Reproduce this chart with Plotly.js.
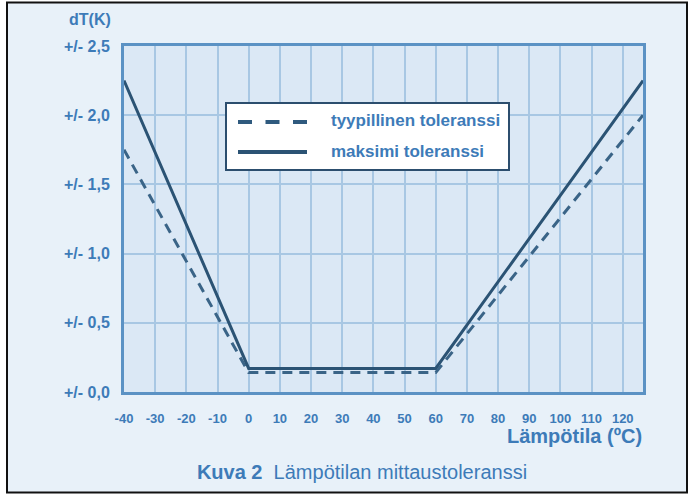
<!DOCTYPE html>
<html>
<head>
<meta charset="utf-8">
<script src="https://cdn.plot.ly/plotly-3.0.1.min.js"></script>
<style>html,body{margin:0;padding:0;background:#fff;}</style>
</head>
<body>
<div id="chart" style="width:694px;height:494px;"></div>
<script>
// ---- data ----
const tempTyp = [-40, 0, 60, 126.5];
const tolTyp  = [1.75, 0.14, 0.14, 2.0];
const tempMax = [-40, 0, 60, 126.5];
const tolMax  = [2.25, 0.17, 0.17, 2.25];
const xTicks = [-40, -30, -20, -10, 0, 10, 20, 30, 40, 50, 60, 70, 80, 90, 100, 110, 120];
const xTickText = ['-40', '-30', '-20', '-10', '0', '10', '20', '30', '40', '50', '60', '70', '80', '90', '100', '110', '120'];
const yTicks = [0, 0.5, 1.0, 1.5, 2.0, 2.5];
const yTickText = ['+/- 0,0', '+/- 0,5', '+/- 1,0', '+/- 1,5', '+/- 2,0', '+/- 2,5'];
const seriesNames = ['tyypillinen toleranssi', 'maksimi toleranssi'];

// ---- layout helpers (pixel -> paper) ----
const L = 124, R = 51, T = 46, B = 102, W = 694, H = 494;
const PW = W - L - R, PH = H - T - B;
const px = X => (X - L) / PW;
const py = Y => (H - B - Y) / PH;

const FONT = '"Liberation Sans", Arial, sans-serif';
const TXT = '#3d7bb8';
const GRID = '#a8c7e3';
const FRAME = '#5b92c4';

const traces = [
  {x: tempTyp, y: tolTyp, name: seriesNames[0], mode: 'lines',
   line: {color: '#3a6487', width: 3, dash: '10px,7px'}},
  {x: tempMax, y: tolMax, name: seriesNames[1], mode: 'lines',
   line: {color: '#2b5374', width: 3}}
];

const layout = {
  width: W, height: H,
  margin: {l: L, r: R, t: T, b: B, pad: 0},
  paper_bgcolor: '#ffffff',
  plot_bgcolor: 'rgba(0,0,0,0)',
  showlegend: false,
  font: {family: FONT, color: TXT},
  title: {
    text: '<b>Kuva 2</b>\u00a0 Lämpötilan mittaustoleranssi',
    font: {family: FONT, size: 20, color: TXT},
    xref: 'container', x: 362 / W, xanchor: 'center',
    yref: 'container', y: 1 - 472 / H, yanchor: 'middle'
  },
  xaxis: {
    range: [-40, 126.5], tickvals: xTicks, ticktext: xTickText,
    showgrid: true, gridcolor: GRID, gridwidth: 2,
    zeroline: false, showline: true, linecolor: FRAME, linewidth: 3, mirror: true,
    ticks: '', ticklabelstandoff: 12,
    tickfont: {family: FONT, size: 13, color: TXT, weight: 'bold'}
  },
  yaxis: {
    range: [0, 2.5], tickvals: yTicks, ticktext: yTickText,
    showgrid: true, gridcolor: GRID, gridwidth: 2,
    zeroline: false, showline: true, linecolor: FRAME, linewidth: 3, mirror: true,
    ticks: '', ticklabelstandoff: 8,
    tickfont: {family: FONT, size: 16, color: TXT, weight: 'bold'}
  },
  shapes: [
    // outer frame
    {type: 'rect', xref: 'paper', yref: 'paper', layer: 'below',
     x0: px(7), x1: px(687), y0: py(492.5), y1: py(2.5),
     fillcolor: '#e8f1f9', line: {color: '#111111', width: 2}},
    // plot area background
    {type: 'rect', xref: 'paper', yref: 'paper', layer: 'below',
     x0: 0, x1: 1, y0: 0, y1: 1, fillcolor: '#dbe8f5', line: {width: 0}},
    // legend box
    {type: 'rect', xref: 'paper', yref: 'paper', layer: 'above',
     x0: px(226), x1: px(509), y0: py(170), y1: py(103),
     fillcolor: '#ffffff', line: {color: '#2c4e6e', width: 2}},
    {type: 'line', xref: 'paper', yref: 'paper', layer: 'above',
     x0: px(238), x1: px(307), y0: py(122), y1: py(122),
     line: {color: '#2f5a7e', width: 4, dash: '14px,13.5px'}},
    {type: 'line', xref: 'paper', yref: 'paper', layer: 'above',
     x0: px(238), x1: px(307), y0: py(152), y1: py(152),
     line: {color: '#2b5374', width: 4}}
  ],
  annotations: [
    {text: seriesNames[0], xref: 'paper', yref: 'paper', x: px(329), y: py(121),
     xanchor: 'left', yanchor: 'middle', showarrow: false,
     font: {family: FONT, size: 17, color: TXT, weight: 'bold'}},
    {text: seriesNames[1], xref: 'paper', yref: 'paper', x: px(329), y: py(151),
     xanchor: 'left', yanchor: 'middle', showarrow: false,
     font: {family: FONT, size: 17, color: TXT, weight: 'bold'}},
    {text: 'dT(K)', xref: 'paper', yref: 'paper', x: px(113), y: py(19),
     xanchor: 'right', yanchor: 'middle', showarrow: false,
     font: {family: FONT, size: 16, color: TXT, weight: 'bold'}},
    {text: 'Lämpötila (ºC)', xref: 'paper', yref: 'paper', x: px(644), y: py(436),
     xanchor: 'right', yanchor: 'middle', showarrow: false,
     font: {family: FONT, size: 20, color: TXT, weight: 'bold'}}
  ]
};

Plotly.newPlot('chart', traces, layout, {displayModeBar: false, staticPlot: true});
</script>
</body>
</html>
